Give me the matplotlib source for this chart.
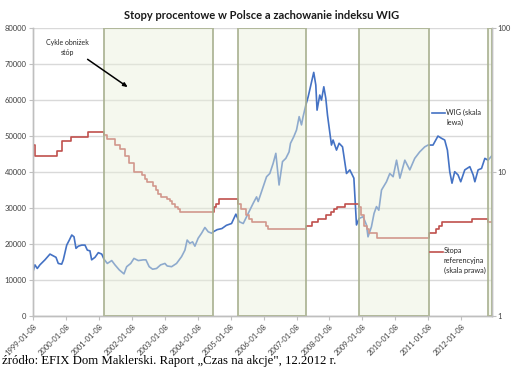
import numpy as np
import pandas as pd
import matplotlib
matplotlib.use("Agg")
from matplotlib import pyplot as plt
import matplotlib.dates as mdates

plt.rcParams['font.family'] = ['Lato', 'DejaVu Sans']

# WIG index (left axis), weekly-ish readings
wig_dates = [
    "1999-01-08", "1999-01-24", "1999-02-19", "1999-03-20", "1999-05-15", "1999-07-10",
    "1999-08-16", "1999-09-15", "1999-10-10", "1999-11-17", "1999-12-05", "2000-01-12",
    "2000-02-10", "2000-03-08", "2000-04-02", "2000-04-24", "2000-05-20", "2000-06-27",
    "2000-08-02", "2000-08-28", "2000-09-26", "2000-10-15", "2000-11-21", "2000-12-28",
    "2001-02-04", "2001-03-01", "2001-04-07", "2001-05-26", "2001-07-01", "2001-08-18",
    "2001-10-09", "2001-11-08", "2001-12-23", "2002-01-28", "2002-03-17", "2002-05-11",
    "2002-06-10", "2002-07-16", "2002-08-23", "2002-10-06", "2002-11-20", "2003-01-07",
    "2003-02-01", "2003-03-22", "2003-05-16", "2003-07-11", "2003-08-17", "2003-09-11",
    "2003-10-11", "2003-11-10", "2003-12-06", "2004-01-11", "2004-02-18", "2004-03-26",
    "2004-05-02", "2004-06-09", "2004-06-27", "2004-08-10", "2004-10-01", "2004-11-20",
    "2005-01-16", "2005-03-05", "2005-04-11", "2005-05-26", "2005-07-20", "2005-09-13",
    "2005-10-21", "2005-11-08", "2006-01-02", "2006-02-09", "2006-03-17", "2006-04-23",
    "2006-05-23", "2006-06-28", "2006-08-05", "2006-09-11", "2006-10-17", "2006-11-02",
    "2006-12-08", "2007-01-08", "2007-02-06", "2007-03-04", "2007-03-22", "2007-04-21",
    "2007-05-17", "2007-06-12", "2007-07-18", "2007-08-10", "2007-08-24", "2007-09-23",
    "2007-10-12", "2007-11-07", "2007-11-29", "2007-12-18", "2008-01-12", "2008-01-31",
    "2008-02-18", "2008-03-27", "2008-04-25", "2008-06-02", "2008-07-16", "2008-08-22",
    "2008-10-06", "2008-11-04", "2008-12-03", "2009-01-16", "2009-02-23", "2009-03-12",
    "2009-04-19", "2009-05-18", "2009-06-14", "2009-07-10", "2009-08-09", "2009-10-03",
    "2009-11-09", "2009-12-16", "2010-01-23", "2010-03-01", "2010-04-25", "2010-06-19",
    "2010-08-13", "2010-10-07", "2010-12-02", "2011-01-08", "2011-03-04", "2011-04-28",
    "2011-06-05", "2011-07-12", "2011-08-11", "2011-09-06", "2011-10-01", "2011-10-31",
    "2011-12-07", "2012-01-06", "2012-02-20", "2012-04-16", "2012-05-23", "2012-06-11",
    "2012-07-17", "2012-08-24", "2012-09-30", "2012-11-05", "2012-12-12",
]
wig_values = [
    12800, 14200, 13200, 14200, 15600, 17200,
    16700, 16300, 14600, 14400, 15600, 19700,
    21100, 22500, 22000, 18800, 19400, 19700,
    19700, 18300, 18100, 15600, 16300, 17600,
    17200, 15800, 14600, 15400, 14200, 12800,
    11700, 13700, 14600, 16000, 15400, 15600,
    15600, 13700, 13000, 13200, 14200, 14600,
    13900, 13700, 14600, 16500, 18300, 21100,
    20200, 20600, 19400, 21600, 23000, 24600,
    23400, 23000, 23400, 24000, 24300, 25200,
    25700, 28300, 26200, 25700, 28500, 31300,
    33100, 31800, 35900, 38700, 39600, 42400,
    45200, 36400, 42900, 43800, 45600, 48000,
    49800, 51700, 55400, 53100, 55400, 58600,
    60900, 63700, 67700, 64200, 57200, 61400,
    60000, 63700, 60500, 55800, 51200, 47500,
    48900, 46100, 48000, 47000, 39600, 40600,
    38300, 25300, 27100, 27600, 25300, 22000,
    24800, 28500, 30400, 29400, 35000, 37300,
    39600, 38700, 43300, 38300, 43300, 40600,
    43800, 45600, 47000, 47500, 47500, 50000,
    49400, 48900, 46100, 40100, 36900, 40100,
    39200, 37300, 40600, 41500, 39200, 37300,
    40600, 41000, 43800, 43300, 44400,
]

# NBP reference rate, % (right axis, log scale)
rate_dates = [
    "1999-01-08", "1999-01-21", "1999-09-23", "1999-11-18", "2000-02-24", "2000-08-31",
    "2001-02-28", "2001-03-29", "2001-06-28", "2001-08-23", "2001-10-26", "2001-11-29",
    "2002-01-31", "2002-04-26", "2002-05-30", "2002-06-27", "2002-08-29", "2002-09-26",
    "2002-10-24", "2002-11-28", "2003-01-30", "2003-02-27", "2003-03-27", "2003-04-25",
    "2003-05-29", "2003-06-26", "2004-06-30", "2004-07-29", "2004-08-26", "2005-03-31",
    "2005-04-28", "2005-06-30", "2005-07-28", "2005-08-31", "2006-01-31", "2006-02-28",
    "2007-04-26", "2007-06-28", "2007-08-30", "2007-11-29", "2008-01-31", "2008-02-28",
    "2008-03-27", "2008-06-26", "2008-11-27", "2008-12-24", "2009-01-28", "2009-02-26",
    "2009-03-26", "2009-06-25", "2011-01-20", "2011-04-06", "2011-05-12", "2011-06-09",
    "2012-05-10", "2012-11-08",
]
rate_values = [
    15.5, 13.0, 14.0, 16.5, 17.5, 19.0,
    18.0, 17.0, 15.5, 14.5, 13.0, 11.5,
    10.0, 9.5, 9.0, 8.5, 8.0, 7.5,
    7.0, 6.75, 6.5, 6.25, 6.0, 5.75,
    5.5, 5.25, 5.75, 6.0, 6.5, 6.0,
    5.5, 5.0, 4.75, 4.5, 4.25, 4.0,
    4.25, 4.5, 4.75, 5.0, 5.25, 5.5,
    5.75, 6.0, 5.75, 5.0, 4.25, 4.0,
    3.75, 3.5, 3.75, 4.0, 4.25, 4.5,
    4.75, 4.5,
]

# rate-cut cycles (shaded)
cut_starts = ["2001-02-28", "2005-03-31", "2008-11-27", "2012-11-08"]
cut_ends = ["2004-06-24", "2007-04-24", "2011-01-20", "2012-12-14"]

x_start = pd.Timestamp("1999-01-08")
x_end = pd.Timestamp("2012-12-14")
tick_dates = [f"{y}-01-08" for y in range(1999, 2013)]

blue = '#4472C4'
red = '#C0504D'
grid_c = '#d9d9d9'
txt_c = '#404040'

fig = plt.figure(figsize=(5.13, 3.70), dpi=100)
ax = fig.add_axes([0.0653, 0.146, 0.893, 0.778])
ax2 = ax.twinx()

wd = pd.to_datetime(wig_dates)
ax.plot(wd, wig_values, color=blue, lw=1.2, zorder=2)
ax.set_ylim(0, 80000)
ax.set_yticks(range(0, 80001, 10000))
ax.grid(axis='y', color=grid_c, lw=1)
ax.set_axisbelow(True)

rd = list(pd.to_datetime(rate_dates)) + [x_end]
rv = rate_values + [rate_values[-1]]
ax2.step(rd, rv, where='post', color=red, lw=1.2, zorder=2)
ax2.set_yscale('log')
ax2.set_ylim(1, 100)
ax2.set_yticks([1, 10, 100])
ax2.set_yticklabels(['1', '10', '100'])
ax2.yaxis.set_minor_locator(matplotlib.ticker.NullLocator())

# shading overlaid on both lines
for s, e in zip(cut_starts, cut_ends):
    ax2.axvspan(pd.Timestamp(s), pd.Timestamp(e), facecolor=(233/255, 240/255, 218/255, 0.45),
                edgecolor=(0.66, 0.69, 0.56, 0.85), lw=1.4, zorder=3)

ax.set_xlim(x_start, x_end)
ax.set_xticks(pd.to_datetime(tick_dates))
ax.set_xticklabels(tick_dates, rotation=45, ha='right', rotation_mode='anchor')

for a in (ax, ax2):
    a.spines['top'].set_visible(False)
    for sp in ('left', 'right', 'bottom'):
        a.spines[sp].set_color('#bfbfbf')
        a.spines[sp].set_linewidth(1)
    a.tick_params(colors=txt_c, labelsize=5.5, length=3, width=0.8)
    a.tick_params(axis='both', color='#bfbfbf')
ax.tick_params(axis='y', pad=2)
ax2.tick_params(axis='y', pad=1, labelsize=5.5)
ax.tick_params(axis='x', pad=2)

fig.text(0.51, 0.958, "Stopy procentowe w Polsce a zachowanie indeksu WIG",
         ha='center', va='center', fontsize=8, fontweight='bold', color='#1a1a1a')

# annotation drawn on the top axes so the shading does not cover it
arrow_tip = (mdates.date2num(pd.Timestamp("2001-11-20")), 63600)
label_pos = (mdates.date2num(pd.Timestamp("2000-01-20")), 74600)
ax2.annotate("Cykle obniżek\nstóp", xy=arrow_tip, xytext=label_pos,
             xycoords=ax.transData, textcoords=ax.transData, ha='center', va='center',
             fontsize=5, color='#262626', linespacing=1.4, zorder=5,
             arrowprops=dict(arrowstyle='-|>,head_length=0.5,head_width=0.22', color='black',
                             lw=1.1, relpos=(0.85, 0.0), shrinkA=1, shrinkB=0))

# in-plot legend entries
ax2.plot([0.870, 0.898], [0.705, 0.705], transform=ax2.transAxes, color=blue, lw=1.2, zorder=5)
ax2.text(0.901, 0.721, "WIG (skala\nlewa)", transform=ax2.transAxes, fontsize=5.3,
         va='top', ha='left', color='#262626', linespacing=1.45, zorder=5)
ax2.plot([0.866, 0.894], [0.222, 0.222], transform=ax2.transAxes, color=red, lw=1.2, zorder=5)
ax2.text(0.896, 0.238, "Stopa\nreferencyjna\n(skala prawa)", transform=ax2.transAxes,
         fontsize=5.3, va='top', ha='left', color='#262626', linespacing=1.45, zorder=5)

fig.text(0.004, 0.024, "źródło: EFIX Dom Maklerski. Raport „Czas na akcje\", 12.2012 r.",
         ha='left', va='center', fontsize=9.2, family=['Liberation Serif', 'DejaVu Serif'],
         color='black')

fig.savefig("out.png", dpi=100)
